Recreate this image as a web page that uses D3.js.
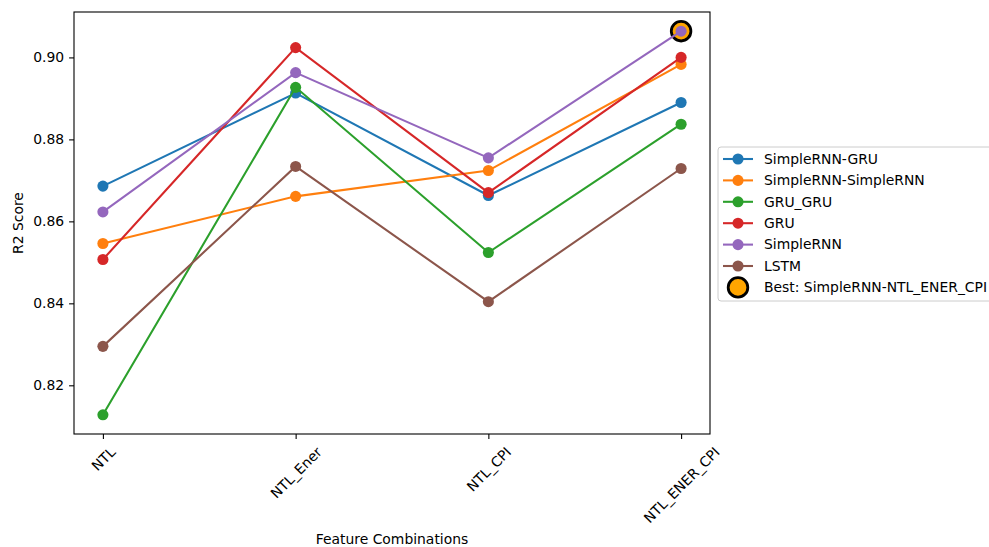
<!DOCTYPE html>
<html>
<head>
<meta charset="utf-8">
<script src="https://cdnjs.cloudflare.com/ajax/libs/d3/7.8.5/d3.min.js"></script>
<style>
  body { margin: 0; background: #fff; }
  svg text { font-family: "DejaVu Sans", sans-serif; fill: #000; }
</style>
</head>
<body>
<div class="canvas"></div>
<script>
// feature combinations (x axis)
var features = ["NTL", "NTL_Ener", "NTL_CPI", "NTL_ENER_CPI"];
var models = ["SimpleRNN-GRU", "SimpleRNN-SimpleRNN", "GRU_GRU", "GRU", "SimpleRNN", "LSTM"];
var colors = ["#1f77b4", "#ff7f0e", "#2ca02c", "#d62728", "#9467bd", "#8c564b"];

// R2 per model
var r2_simplernn_gru       = [0.8686, 0.8913, 0.8663, 0.8890];
var r2_simplernn_simplernn = [0.8546, 0.8661, 0.8724, 0.8983];
var r2_gru_gru             = [0.8128, 0.8927, 0.8524, 0.8837];
var r2_gru                 = [0.8507, 0.9024, 0.8670, 0.9000];
var r2_simplernn           = [0.8623, 0.8963, 0.8755, 0.9064];
var r2_lstm                = [0.8295, 0.8734, 0.8404, 0.8729];
var series = [r2_simplernn_gru, r2_simplernn_simplernn, r2_gru_gru, r2_gru, r2_simplernn, r2_lstm];

var yticks = [0.82, 0.84, 0.86, 0.88, 0.90];
var best = { model: "SimpleRNN", feature: "NTL_ENER_CPI", value: 0.9064 };
var bestLabel = "Best: SimpleRNN-NTL_ENER_CPI";

var width = 989, height = 547;
// plot area (note: "top" is a window global, so prefix these)
var pLeft = 74, pRight = 710, pTop = 12, pBottom = 434;

var svg = d3.select(".canvas").append("svg")
  .attr("width", width)
  .attr("height", height);

// x: point positions with 5% margins like matplotlib
var x = d3.scaleLinear()
  .domain([-0.15, features.length - 1 + 0.15])
  .range([pLeft, pRight]);

var allv = [].concat.apply([], series);
var ymin = d3.min(allv), ymax = d3.max(allv), pad = (ymax - ymin) * 0.05;
var y = d3.scaleLinear()
  .domain([ymin - pad, ymax + pad])
  .range([pBottom, pTop]);

// axes
var yAxis = d3.axisLeft(y).tickValues(yticks).tickFormat(d3.format(".2f")).tickSize(4.9).tickPadding(4.9);
var gy = svg.append("g").attr("transform", "translate(" + pLeft + ",0)").call(yAxis);
gy.select(".domain").remove();
gy.selectAll("line").attr("stroke", "#000").attr("stroke-width", 1.1);
gy.selectAll("text").style("font-size", "13.9px").style("font-family", "DejaVu Sans");

var xAxis = d3.axisBottom(x).tickValues(d3.range(features.length)).tickFormat(function(i){ return features[i]; }).tickSize(4.9);
var gx = svg.append("g").attr("transform", "translate(0," + pBottom + ")").call(xAxis);
gx.select(".domain").remove();
gx.selectAll("line").attr("stroke", "#000").attr("stroke-width", 1.1);
// rotate 45 deg, centred on the tick like rotation=45 in mpl
gx.selectAll("text")
  .style("font-size", "13.9px")
  .style("font-family", "DejaVu Sans")
  .attr("y", 0).attr("dy", null)
  .attr("text-anchor", "middle")
  .attr("dominant-baseline", "central")
  .each(function(d) {
    var L = this.getComputedTextLength();
    var h = 13.9 * 1.16;
    var bb = (L + h) * Math.SQRT1_2;
    d3.select(this).attr("transform", "translate(0," + (9.8 + bb / 2) + ") rotate(-45)");
  });

// best point, drawn first (below the lines)
svg.append("circle")
  .attr("cx", x(features.indexOf(best.feature)))
  .attr("cy", y(best.value))
  .attr("r", 9.8)
  .attr("fill", "orange")
  .attr("stroke", "#000")
  .attr("stroke-width", 2.8);

var line = d3.line()
  .x(function(d, i) { return x(i); })
  .y(function(d) { return y(d); });

series.forEach(function(s, k) {
  var g = svg.append("g");
  g.append("path")
    .datum(s)
    .attr("d", line)
    .attr("fill", "none")
    .attr("stroke", colors[k])
    .attr("stroke-width", 2.08);
  g.selectAll("circle")
    .data(s)
    .enter()
    .append("circle")
    .attr("cx", function(d, i) { return x(i); })
    .attr("cy", function(d) { return y(d); })
    .attr("r", 5.55)
    .attr("fill", colors[k]);
});

// frame
svg.append("rect")
  .attr("x", pLeft).attr("y", pTop)
  .attr("width", pRight - pLeft).attr("height", pBottom - pTop)
  .attr("fill", "none").attr("stroke", "#000").attr("stroke-width", 1.1);

// axis labels
svg.append("text")
  .attr("x", (pLeft + pRight) / 2).attr("y", 544)
  .attr("text-anchor", "middle")
  .style("font-size", "13.9px")
  .text("Feature Combinations");
svg.append("text")
  .attr("transform", "translate(23," + (pTop + pBottom) / 2 + ") rotate(-90)")
  .attr("text-anchor", "middle")
  .style("font-size", "13.9px")
  .text("R2 Score");

// legend
var lx = 718, ly = 147, rowh = 21.4;
svg.append("rect")
  .attr("x", lx).attr("y", ly)
  .attr("width", 290).attr("height", 154)
  .attr("rx", 3)
  .attr("fill", "#fff").attr("fill-opacity", 0.8)
  .attr("stroke", "#cccccc").attr("stroke-width", 1);

var leg = svg.selectAll(".leg")
  .data(models)
  .enter()
  .append("g")
  .attr("class", "leg")
  .attr("transform", function(d, i) { return "translate(" + lx + "," + (ly + 12 + rowh * i) + ")"; });
leg.append("line")
  .attr("x1", 5).attr("x2", 35)
  .attr("stroke", function(d, i) { return colors[i]; })
  .attr("stroke-width", 2.08);
leg.append("circle")
  .attr("cx", 20).attr("r", 5.55)
  .attr("fill", function(d, i) { return colors[i]; });
leg.append("text")
  .attr("x", 46).attr("dy", "0.35em")
  .style("font-size", "13.9px")
  .text(function(d) { return d; });

var lb = svg.append("g").attr("transform", "translate(" + lx + "," + (ly + 12 + rowh * models.length) + ")");
lb.append("circle")
  .attr("cx", 20).attr("r", 9.8)
  .attr("fill", "orange").attr("stroke", "#000").attr("stroke-width", 2.8);
lb.append("text")
  .attr("x", 46).attr("dy", "0.35em")
  .style("font-size", "13.9px")
  .text(bestLabel);
</script>
</body>
</html>
